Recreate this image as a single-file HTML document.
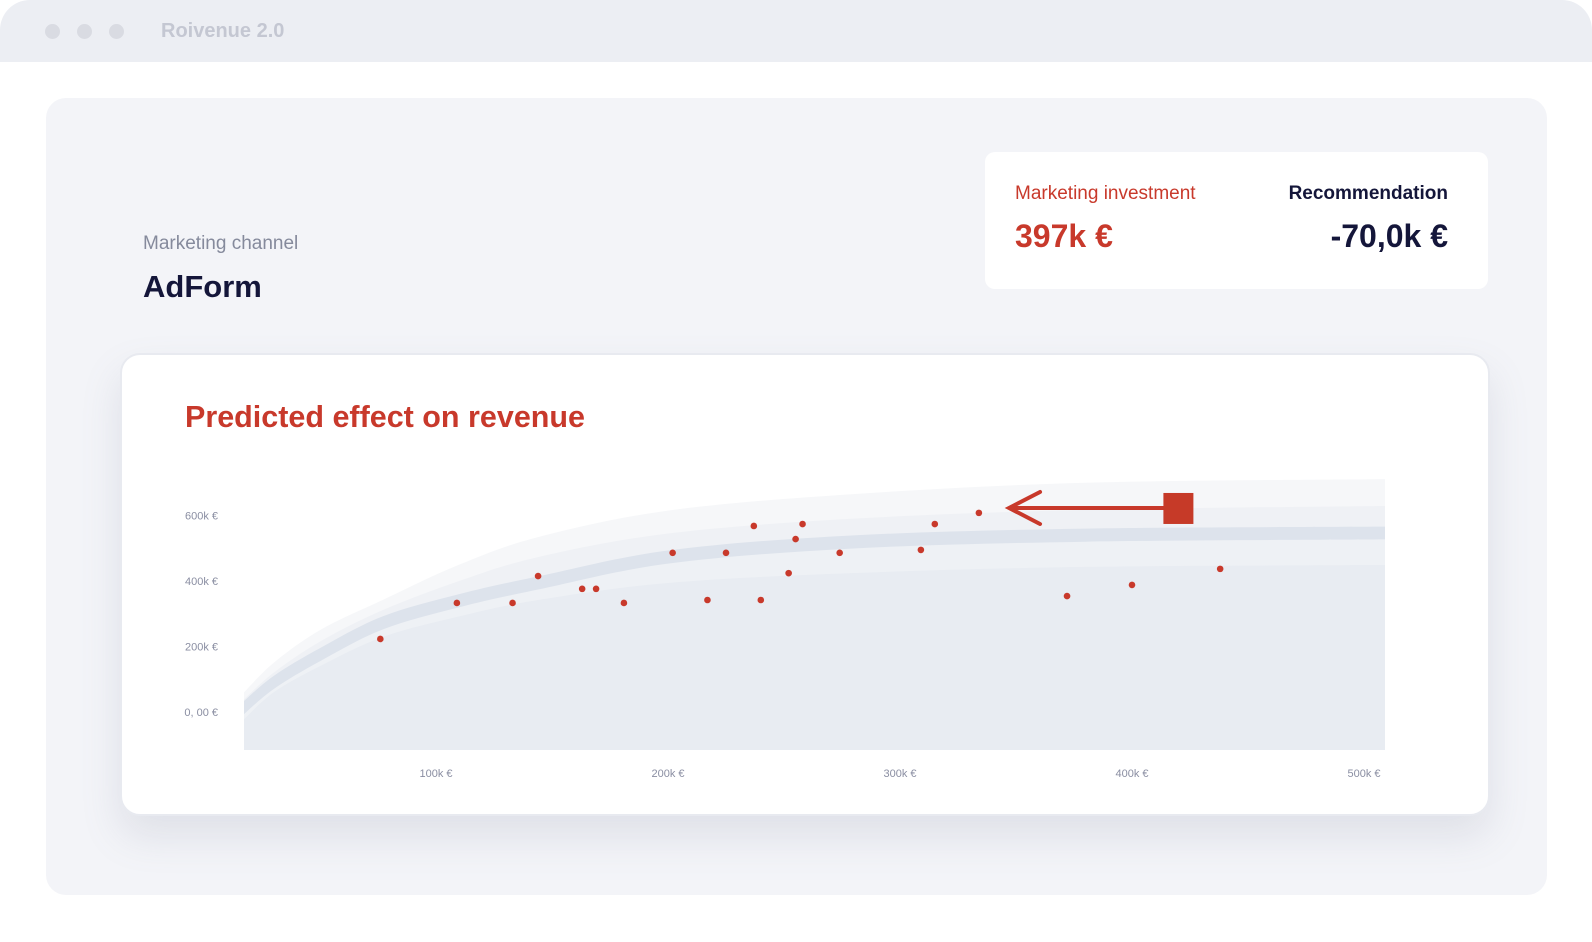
<!DOCTYPE html>
<html><head><meta charset="utf-8">
<style>
*{margin:0;padding:0;box-sizing:border-box}
body{width:1592px;height:942px;background:#fff;font-family:"Liberation Sans",sans-serif;position:relative;overflow:hidden}
.abs{position:absolute}
#titlebar{left:0;top:0;width:1592px;height:62px;background:#eceef3;border-radius:30px 30px 0 0}
.dot{width:15px;height:15px;border-radius:50%;background:#d9dbe2;top:24px}
#panel{left:46px;top:98px;width:1501px;height:797px;background:#f3f4f8;border-radius:20px}
#kpi{left:985px;top:152px;width:503px;height:137px;background:#fff;border-radius:10px}
#card{left:120px;top:353px;width:1370px;height:463px;background:#fff;border-radius:20px;border:2px solid #e8eaf0;box-shadow:0 20px 40px rgba(120,125,150,0.16)}
</style></head><body>
<div id="titlebar" class="abs">
 <div class="abs dot" style="left:45px"></div>
 <div class="abs dot" style="left:77px"></div>
 <div class="abs dot" style="left:109px"></div>
 <div class="abs" style="left:161px;top:20px;font-size:20px;font-weight:bold;color:#c4c7d2">Roivenue 2.0</div>
</div>
<div id="panel" class="abs"></div>
<div class="abs" style="left:143px;top:233px;font-size:19px;color:#858a9c">Marketing channel</div>
<div class="abs" style="left:143px;top:269px;font-size:31px;font-weight:bold;color:#14163a">AdForm</div>
<div id="kpi" class="abs">
 <div class="abs" style="left:30px;top:31px;font-size:19px;color:#c8392b">Marketing investment</div>
 <div class="abs" style="left:30px;top:66px;font-size:32px;font-weight:bold;color:#c8392b">397k €</div>
 <div class="abs" style="right:40px;top:31px;font-size:19px;font-weight:bold;color:#14163a">Recommendation</div>
 <div class="abs" style="right:40px;top:66px;font-size:32px;font-weight:bold;color:#14163a">-70,0k €</div>
</div>
<div id="card" class="abs">
 <div class="abs" style="left:63px;top:45px;font-size:30.5px;font-weight:bold;color:#c8392b">Predicted effect on revenue</div>
</div>
<svg class="abs" style="left:0;top:0" width="1592" height="942">
 <defs><clipPath id="pc"><rect x="244" y="479" width="1141" height="271"/></clipPath></defs>
 <g id="bands" clip-path="url(#pc)"></g>
 <g id="yaxis"></g>
 <g id="xaxis"></g>
 <g id="pts"></g>
 <g id="arrow"></g>
</svg>
<script>
const curveX=[17,30,50,77,110,144,200,279,380,508];
const outerBand=[58,150,250,342,450,534,615,665,700,711];
const upperBand=[37,120,215,311,400,473,545,590,617,629];
const centerTop=[32,110,195,292,360,414,493,539,560,566];
const centerBottom=[-8,70,155,252,320,374,453,499,520,527];
const lowerBand=[-24,60,140,229,292,342,394,424,443,449];
const pointX=[76,109,133,144,163,169,181,202,217,225,237,240,252,255,258,274,309,315,334,372,400,438];
const pointY=[223,333,333,415,376,376,333,486,342,486,568,342,424,528,574,486,495,574,608,354,388,437];
const yTicks=[0,200,400,600];
const yTickLabels=["0, 00 €","200k €","400k €","600k €"];
const xTicks=[100,200,300,400,500];
const xTickLabels=["100k €","200k €","300k €","400k €","500k €"];
const currentInvest=[420,623];
const recommendedInvest=[347,623];
const NS="http://www.w3.org/2000/svg";
function sx(v){return 204+v*2.32;}
function sy(v){return 712-v*65.5/200;}
function mk(t,a,p){const e=document.createElementNS(NS,t);for(const k in a)e.setAttribute(k,a[k]);p.appendChild(e);return e;}
function areaPath(vals){
 const P=curveX.map((x,i)=>[sx(x),sy(vals[i])]);
 let d="M"+P[0][0]+","+P[0][1];
 for(let i=0;i<P.length-1;i++){
  const p0=P[Math.max(0,i-1)],p1=P[i],p2=P[i+1],p3=P[Math.min(P.length-1,i+2)];
  const c1=[p1[0]+(p2[0]-p0[0])/6,p1[1]+(p2[1]-p0[1])/6];
  const c2=[p2[0]-(p3[0]-p1[0])/6,p2[1]-(p3[1]-p1[1])/6];
  d+=" C"+c1+" "+c2+" "+p2;
 }
 const L=P[P.length-1];
 return d+" L1395,"+L[1]+" L1395,760 L"+P[0][0]+",760 Z";
}
const bands=document.getElementById('bands');
const layers=[[outerBand,"#f6f7f9","band-outer"],[upperBand,"#eff1f5","band-upper"],[centerTop,"#dde3ec","fit-line"],[centerBottom,"#eef1f5","band-lower"],[lowerBand,"#e8ecf2","band-base"]];
layers.forEach(l=>{const e=mk('path',{d:areaPath(l[0]),fill:l[1]},bands);

});
const ya=document.getElementById('yaxis');
yTicks.forEach((v,i)=>{const t=mk('text',{x:218,y:sy(v)+4,'text-anchor':'end','font-size':11,fill:'#8a8ea2','font-family':'Liberation Sans'},ya);t.textContent=yTickLabels[i];

});
const xa=document.getElementById('xaxis');
xTicks.forEach((v,i)=>{const t=mk('text',{x:sx(v),y:777,'text-anchor':'middle','font-size':11,fill:'#8a8ea2','font-family':'Liberation Sans'},xa);t.textContent=xTickLabels[i];

});
const pts=document.getElementById('pts');
pointX.forEach((x,i)=>{const c=mk('circle',{cx:sx(x),cy:sy(pointY[i]),r:3.3,fill:'#c8392b'},pts);

});
const ar=document.getElementById('arrow');
const ax=sx(currentInvest[0]),ay=sy(currentInvest[1]),tx=sx(recommendedInvest[0]),ty=sy(recommendedInvest[1]);
const ln=mk('line',{x1:ax,y1:ay,x2:tx+3,y2:ty,stroke:'#c8392b','stroke-width':4},ar);


const hd=mk('polyline',{points:(tx+31)+","+(ty-16)+" "+tx+","+ty+" "+(tx+31)+","+(ty+16),fill:'none',stroke:'#c8392b','stroke-width':4,'stroke-linecap':'round'},ar);


const sq=mk('rect',{x:ax-15,y:ay-15,width:30,height:31,fill:'#c63a28'},ar);


</script>
</body></html>
